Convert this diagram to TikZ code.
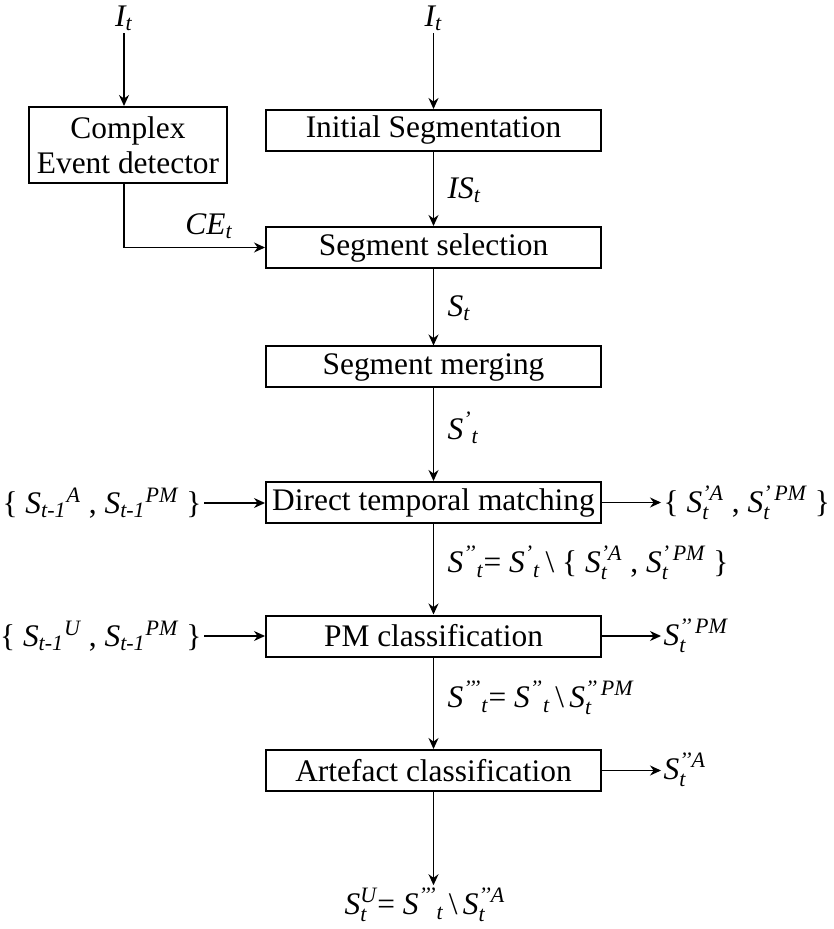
\documentclass[tikz,border=0pt]{standalone}
\usepackage{amsmath}
\usepackage{fontspec}
\setmainfont{Liberation Serif}
\usetikzlibrary{arrows.meta}
\newcommand\mi[1]{\textit{#1}}
\tikzset{
    blk/.style={draw, line width=1pt, minimum width=167.5pt, minimum height=20.5pt, inner sep=0pt},
    lbl/.style={inner sep=1pt},
    >={Stealth[length=5.5pt,width=5pt]}
}

\begin{document}
\begin{tikzpicture}[x=0.5pt, y=-0.5pt, font=\fontsize{15.7}{17.5}\selectfont, line width=0.65pt]
    \useasboundingbox (0,0) rectangle (833,929);
    \node[lbl] (itl) at (124,18) {$\mi{I}_{\mi{t}}$};
    \node[lbl] (itr) at (433.5,18) {$\mi{I}_{\mi{t}}$};
    \node[draw, line width=1pt, minimum width=99pt, minimum height=38pt, inner sep=0pt, align=center] (ced) at (128,145) {Complex\\Event detector};
    \node[blk] (init) at (433.5,130.5) {Initial Segmentation};
    \node[blk] (sel) at (433.5,247.5) {Segment selection};
    \node[blk] (mrg) at (433.5,367) {Segment merging};
    \node[blk] (dtm) at (433.5,502.5) {Direct temporal matching};
    \node[blk] (pmc) at (433.5,636) {PM classification};
    \node[blk] (art) at (433.5,770.5) {Artefact classification};

    \node[lbl, anchor=east] (inA) at (204,503) {\{ $\mi{S}_{\mi{t-1}}{}^{\mi{A}}$ , $\mi{S}_{\mi{t-1}}{}^{\mi{PM}}$ \}};
    \node[lbl, anchor=east] (inU) at (204,636) {\{ $\mi{S}_{\mi{t-1}}{}^{\mi{U}}$ , $\mi{S}_{\mi{t-1}}{}^{\mi{PM}}$ \}};
    \node[lbl, anchor=west] (outA) at (661,503) {\{ $\mi{S}^{\mi{'A}}_{\mi{t}}$ , $\mi{S}^{\mi{'\,PM}}_{\mi{t}}$ \}};
    \node[lbl, anchor=west] (outPM) at (661,636) {$\mi{S}^{\mi{'{}'\,PM}}_{\mi{t}}$};
    \node[lbl, anchor=west] (outArt) at (661,770) {$\mi{S}^{\mi{'{}'A}}_{\mi{t}}$};

    \node[lbl, anchor=west] (ise) at (445,190) {$\mi{IS}_{\mi{t}}$};
    \node[lbl, anchor=west] (se) at (445,308) {$\mi{S}_{\mi{t}}$};
    \node[lbl, anchor=west] (sp) at (445,428) {$\mi{S}^{\mi{'}}{}_{\mi{t}}$};
    \node[lbl, anchor=west] (spp) at (445,563) {$\mi{S}^{\mi{'{}'}}{}_{\mi{t}}$= $\mi{S}^{\mi{'}}{}_{\mi{t}}$\,\textbackslash\ \{ $\mi{S}^{\mi{'A}}_{\mi{t}}$ , $\mi{S}^{\mi{'\,PM}}_{\mi{t}}$ \}};
    \node[lbl, anchor=west] (sppp) at (445,698) {$\mi{S}^{\mi{'{}'{}'}}{}_{\mi{t}}$= $\mi{S}^{\mi{'{}'}}{}_{\mi{t}}$\,\textbackslash\,$\mi{S}^{\mi{'{}'\,PM}}_{\mi{t}}$};
    \node[lbl] (ce) at (209,226) {$\mi{CE}_{\mi{t}}$};
    \node[lbl] (res) at (425,905) {$\mi{S}^{\mi{U}}_{\mi{t}}$= $\mi{S}^{\mi{'{}'{}'}}{}_{\mi{t}}$\,\textbackslash\,$\mi{S}^{\mi{'{}'A}}_{\mi{t}}$};

    \draw[->] (itl) -- (itl |- ced.north);
    \draw[->] (itr) -- (init);
    \draw[->] (ced.south -| itl) |- (sel.west);
    \draw[->] (init) -- (sel);
    \draw[->] (sel) -- (mrg);
    \draw[->] (mrg) -- (dtm);
    \draw[->] (dtm) -- (pmc);
    \draw[->] (pmc) -- (art);
    \draw[->] (art.south) -- (art.south |- res.north);
    \draw[->] (inA.east) -- (inA.east -| dtm.west);
    \draw[->] (inU.east) -- (inU.east -| pmc.west);
    \draw[->] (dtm.east) -- (dtm.east -| outA.west);
    \draw[->] (pmc.east) -- (pmc.east -| outPM.west);
    \draw[->] (art.east) -- (art.east -| outArt.west);
\end{tikzpicture}
\end{document}
